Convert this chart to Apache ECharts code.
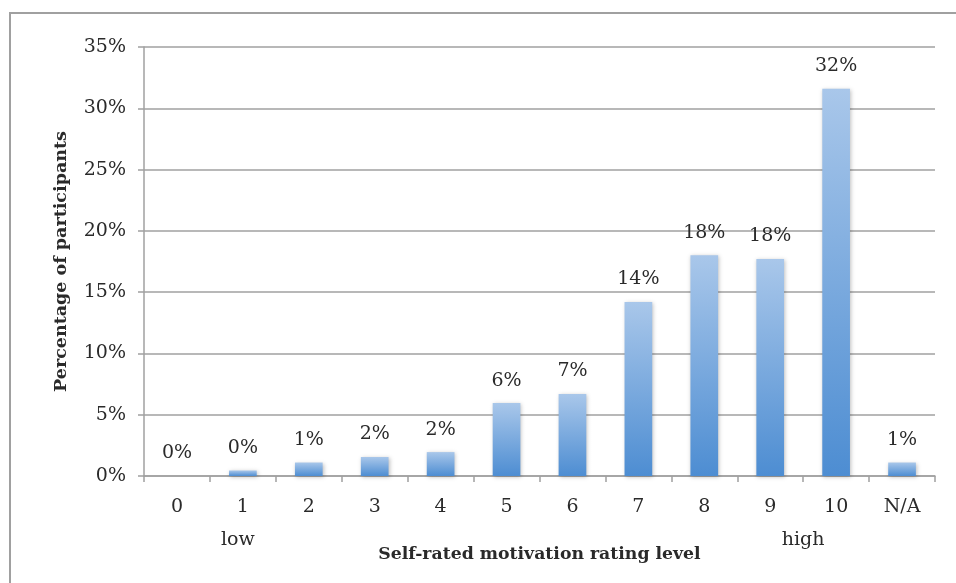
<!DOCTYPE html>
<html>
<head>
<meta charset="utf-8">
<script src="https://cdn.jsdelivr.net/npm/echarts@6/dist/echarts.min.js"></script>
<style>
  html, body { margin: 0; padding: 0; background: #fff; }
  #main { width: 956px; height: 583px; }
</style>
</head>
<body>
<div id="main"></div>
<script>
// categories and values
const categories = ['0', '1', '2', '3', '4', '5', '6', '7', '8', '9', '10', 'N/A'];
const percents = [0, 0.45, 1.1, 1.55, 1.95, 5.95, 6.7, 14.2, 18.0, 17.7, 31.6, 1.1];
const subLabels = { '1': 'low', '10': 'high' };
const yTicks = [0, 5, 10, 15, 20, 25, 30, 35];

const font = 'DejaVu Serif';
const grey = '#a0a0a0';
const txt = '#2a2a2a';

let option = {
  backgroundColor: '#fff',
  animation: false,
  textStyle: { fontFamily: font },
  grid: {
    left: 144,
    right: 21,
    top: 47,
    bottom: 107
  },
  graphic: [
    { // frame (only left and top visible)
      type: 'polyline',
      shape: { points: [[10, 583], [10, 13], [956, 13]] },
      style: { stroke: grey, lineWidth: 2, fill: null }
    }
  ],
  xAxis: {
    type: 'category',
    data: categories,
    name: 'Self-rated motivation rating level',
    nameLocation: 'middle',
    nameGap: 79,
    nameMoveOverlap: false,
    nameTextStyle: { fontFamily: font, fontWeight: 'bold', fontSize: 17.3, color: txt, verticalAlign: 'middle' },
    axisLine: { lineStyle: { color: grey, width: 1.5 } },
    axisTick: { show: true, length: 6, lineStyle: { color: grey, width: 1.5 } },
    axisLabel: {
      margin: 15,
      interval: 0,
      formatter: function (v) {
        if (!subLabels[v]) return '{a|' + v + '}';
        return '{a|' + v + '}\n{' + subLabels[v] + '|' + subLabels[v] + '}';
      },
      rich: {
        a: { fontFamily: font, fontSize: 19, color: txt, lineHeight: 33 },
        low: { fontFamily: font, fontSize: 19, color: txt, lineHeight: 33, padding: [0, 10, 0, 0] },
        high: { fontFamily: font, fontSize: 19, color: txt, lineHeight: 33, padding: [0, 66, 0, 0] }
      }
    }
  },
  yAxis: {
    type: 'value',
    min: yTicks[0],
    max: yTicks[yTicks.length - 1],
    interval: 5,
    name: 'Percentage of participants',
    nameLocation: 'middle',
    nameGap: 74,
    nameTextStyle: { fontFamily: font, fontWeight: 'bold', fontSize: 17.5, color: txt },
    axisLine: { show: true, lineStyle: { color: grey, width: 1.5 } },
    axisTick: { show: true, length: 6, lineStyle: { color: grey, width: 1.5 } },
    splitLine: { lineStyle: { color: grey, width: 1.5 } },
    axisLabel: {
      margin: 18,
      fontFamily: font,
      fontSize: 19,
      color: txt,
      formatter: '{value}%'
    }
  },
  series: [
    {
      type: 'bar',
      data: percents,
      barWidth: '42%',
      itemStyle: {
        color: new echarts.graphic.LinearGradient(0, 0, 0, 1, [
          { offset: 0, color: '#a9c7ea' },
          { offset: 1, color: '#4d8dd2' }
        ]),
        shadowColor: 'rgba(0,0,0,0.25)',
        shadowBlur: 4,
        shadowOffsetX: 1,
        shadowOffsetY: 1
      },
      label: {
        show: true,
        position: 'top',
        distance: 13,
        fontFamily: font,
        fontSize: 19,
        color: txt,
        formatter: function (p) { return Math.round(p.value) + '%'; }
      }
    }
  ]
};

let myChart = echarts.init(document.getElementById('main'));
myChart.setOption(option);
</script>
</body>
</html>
